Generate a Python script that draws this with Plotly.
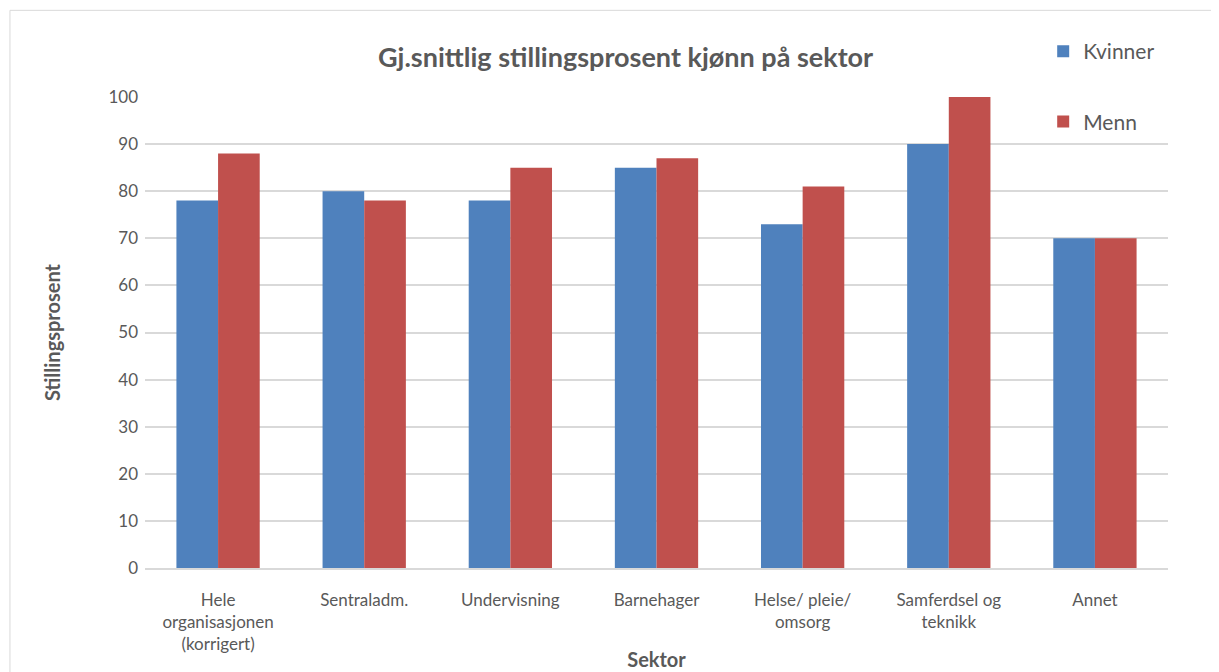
import plotly.graph_objects as go

categories = ["Hele<br>organisasjonen<br>(korrigert)", "Sentraladm.", "Undervisning",
              "Barnehager", "Helse/ pleie/<br>omsorg", "Samferdsel og<br>teknikk", "Annet"]
kvinner = [78, 80, 78, 85, 73, 90, 70]
menn = [88, 78, 85, 87, 81, 100, 70]
y_ticks = [0, 10, 20, 30, 40, 50, 60, 70, 80, 90, 100]

FONT = "Lato, Open Sans, sans-serif"
GRAY = "#595959"

fig = go.Figure()
fig.add_trace(go.Bar(name="Kvinner", x=categories, y=kvinner, marker_color="#4F81BD",
                     marker_line_width=0, legendgroup="k"))
fig.add_trace(go.Bar(name="Menn", x=categories, y=menn, marker_color="#C0504D",
                     marker_line_width=0, legendgroup="m"))

fig.update_layout(
    width=1211, height=664,
    paper_bgcolor="white", plot_bgcolor="white",
    margin=dict(l=137, r=51, t=89, b=104),
    barmode="group", bargap=0.43, bargroupgap=0,
    font=dict(family=FONT, color=GRAY, size=17),
    title=dict(text="<b>Gj.snittlig stillingsprosent kjønn på sektor</b>",
               x=0.51, xanchor="center", y=0.925, yanchor="middle",
               font=dict(size=27, color=GRAY, family=FONT)),
    legend=dict(x=0.878, y=1.14, xanchor="left", yanchor="top",
                font=dict(size=21, color=GRAY), tracegroupgap=40,
                bgcolor="rgba(0,0,0,0)", itemsizing="constant"),
    xaxis=dict(title=dict(text="<b>Sektor</b>", font=dict(size=20, color=GRAY), standoff=0),
               showline=True, linecolor="#d9d9d9", linewidth=1.5, ticks="",
               ticklabelstandoff=16, automargin=False,
               tickfont=dict(size=17, color=GRAY)),
    yaxis=dict(title=dict(text="<b>Stillingsprosent</b>", font=dict(size=20, color=GRAY), standoff=42),
               range=[0, 100], tickvals=y_ticks, showgrid=True, gridcolor="#d9d9d9",
               gridwidth=1.5, zeroline=False, ticklabelstandoff=6,
               tickfont=dict(size=17, color=GRAY)),
    shapes=[dict(type="rect", xref="paper", yref="paper",
                 x0=-0.132, x1=1.06, y0=-0.3, y1=1.184,
                 line=dict(color="#d9d9d9", width=1), fillcolor="rgba(0,0,0,0)", layer="below")],
)

fig.write_html("out.html")
